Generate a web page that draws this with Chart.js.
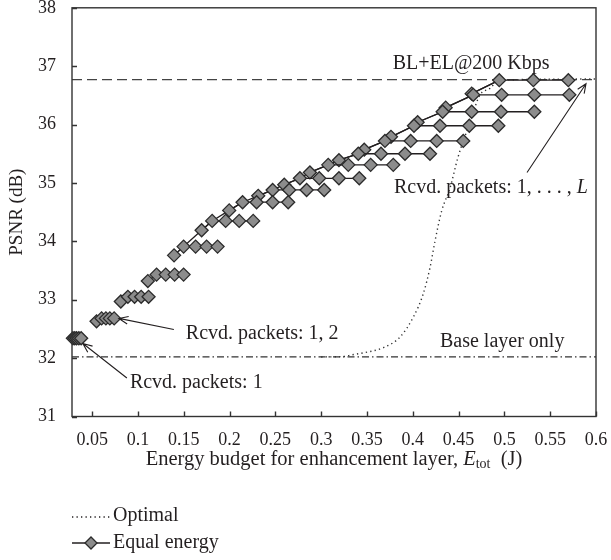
<!DOCTYPE html>
<html lang="en">
<head>
<meta charset="UTF-8">
<title>PSNR vs energy budget</title>
<script src="https://cdn.jsdelivr.net/npm/chart.js"></script>
<style>
  html, body { margin: 0; padding: 0; background: #fff; }
  #wrap { width: 611px; height: 560px; }
</style>
</head>
<body>
<div id="wrap"><canvas id="chart" width="611" height="560"></canvas></div>
<script>
// axis ticks
const xTicks = [0.05, 0.1, 0.15, 0.2, 0.25, 0.3, 0.35, 0.4, 0.45, 0.5, 0.55, 0.6];
const yTicks = [31, 32, 33, 34, 35, 36, 37, 38];

// equal energy: one row per number of received packets
const eqEnergy = [
  [0.029, 0.031, 0.033, 0.0355, 0.038],
  [0.0548, 0.0603, 0.0650, 0.0693, 0.0740],
  [0.0813, 0.0890, 0.0963, 0.1035, 0.1116],
  [0.1108, 0.1203, 0.1303, 0.1400, 0.1498],
  [0.1394, 0.1498, 0.1629, 0.1749, 0.1869],
  [0.1695, 0.1810, 0.1957, 0.2105, 0.2258],
  [0.1996, 0.2142, 0.2295, 0.2470, 0.2640],
  [0.2313, 0.2470, 0.2651, 0.2841, 0.3033],
  [0.2597, 0.2768, 0.2979, 0.3194, 0.3416],
  [0.2877, 0.3077, 0.3296, 0.3540, 0.3787],
  [0.3194, 0.3405, 0.3653, 0.3915, 0.4188],
  [0.3470, 0.3696, 0.3977, 0.4261, 0.4551],
  [0.3762, 0.4013, 0.4297, 0.4617, 0.4934],
  [0.4053, 0.4326, 0.4643, 0.4963, 0.5327],
  [0.4359, 0.4660, 0.4970, 0.5327, 0.5709],
  [0.4643, 0.4944, 0.5316, 0.5698]
];
const eqPsnr = [
  [32.34, 32.34, 32.34, 32.34, 32.34],
  [32.63, 32.68, 32.68, 32.68, 32.68],
  [32.97, 33.05, 33.05, 33.05, 33.05],
  [33.32, 33.43, 33.43, 33.43, 33.43],
  [33.76, 33.91, 33.91, 33.91, 33.91],
  [34.19, 34.35, 34.35, 34.35, 34.35],
  [34.53, 34.67, 34.67, 34.67, 34.67],
  [34.78, 34.88, 34.88, 34.88, 34.88],
  [34.97, 35.08, 35.08, 35.08, 35.08],
  [35.18, 35.31, 35.31, 35.31, 35.31],
  [35.39, 35.50, 35.50, 35.50, 35.50],
  [35.57, 35.72, 35.72, 35.72, 35.72],
  [35.79, 35.98, 35.98, 35.98, 35.98],
  [36.04, 36.22, 36.22, 36.22, 36.22],
  [36.29, 36.51, 36.51, 36.51, 36.51],
  [36.53, 36.76, 36.76, 36.76]
];
// rows from which the rising envelope joins the next row
const envelopeFrom = 4;

// optimal allocation
const optEnergy = [0.30, 0.326, 0.3314, 0.346, 0.368, 0.386, 0.4005, 0.4114, 0.4188, 0.4242, 0.4315,
  0.4406, 0.449, 0.4551, 0.4613, 0.4668, 0.4734, 0.4843, 0.4941, 0.6];
const optPsnr = [32.02, 32.03, 32.05, 32.09, 32.18, 32.36, 32.70, 33.10, 33.55, 34.00, 34.52,
  34.91, 35.42, 35.72, 35.98, 36.25, 36.51, 36.62, 36.76, 36.78];

const baseLevel = 32.02;   // base layer only
const fullLevel = 36.77;   // BL+EL@200 Kbps

const serif = '"Liberation Serif", "DejaVu Serif", serif';
const ink = '#231f20';

const notes = [
  { text: 'BL+EL@200 Kbps', x: 0.378, y: 37.04 },
  { text: 'Rcvd. packets: 1, . . . , ', italic: 'L', x: 0.3795, y: 34.92 },
  { text: 'Rcvd. packets: 1, 2', x: 0.1523, y: 32.42 },
  { text: 'Base layer only', x: 0.4297, y: 32.28 },
  { text: 'Rcvd. packets: 1', x: 0.0912, y: 31.58 }
];
const arrows = [
  { from: [0.5247, 35.18], to: [0.5891, 36.70] },
  { from: [0.1392, 32.49], to: [0.0792, 32.68] },
  { from: [0.0879, 31.66], to: [0.0399, 32.25] }
];

const pts = (xs, ys) => xs.map((v, i) => ({ x: v, y: ys[i] }));

const datasets = [];
eqEnergy.forEach((row, i) => {
  datasets.push({
    data: pts(row, eqPsnr[i]),
    showLine: true,
    borderColor: ink,
    borderWidth: 1.3,
    pointStyle: 'rectRot',
    pointRadius: 6.5,
    pointBackgroundColor: '#8c8c8c',
    pointBorderColor: '#2b2b2b',
    pointBorderWidth: 1.3,
    clip: false
  });
});

const envelope = [];
for (let i = envelopeFrom; i < eqEnergy.length; i++) {
  envelope.push({ x: eqEnergy[i][0], y: eqPsnr[i][0] });
  envelope.push({ x: eqEnergy[i][1], y: eqPsnr[i][1] });
}
datasets.push({ data: envelope, showLine: true, borderColor: ink, borderWidth: 1.3, pointRadius: 0 });

datasets.push({
  data: pts(optEnergy, optPsnr), showLine: true, borderColor: '#333', borderWidth: 1.4,
  borderDash: [1.3, 3.2], pointRadius: 0, cubicInterpolationMode: 'monotone'
});
datasets.push({
  data: [{ x: 0.028, y: fullLevel }, { x: 0.6, y: fullLevel }], showLine: true,
  borderColor: '#444', borderWidth: 1.3, borderDash: [10, 5], pointRadius: 0
});
datasets.push({
  data: [{ x: 0.028, y: baseLevel }, { x: 0.6, y: baseLevel }], showLine: true,
  borderColor: '#333', borderWidth: 1.2, borderDash: [7, 3, 1.5, 3], pointRadius: 0
});

function arrowHead(ctx, x1, y1, x2, y2) {
  const a = Math.atan2(y2 - y1, x2 - x1);
  const len = 10, spread = 0.4;
  ctx.moveTo(x2 - len * Math.cos(a - spread), y2 - len * Math.sin(a - spread));
  ctx.lineTo(x2, y2);
  ctx.lineTo(x2 - len * Math.cos(a + spread), y2 - len * Math.sin(a + spread));
}

const decorations = {
  id: 'decorations',
  afterDraw(chart) {
    const { ctx, chartArea: a, scales: { x, y } } = chart;
    ctx.save();
    // frame and inner ticks
    ctx.strokeStyle = '#333';
    ctx.lineWidth = 1.4;
    ctx.strokeRect(a.left, a.top, a.right - a.left, a.bottom - a.top);
    ctx.beginPath();
    xTicks.forEach(v => {
      const px = Math.round(x.getPixelForValue(v)) + 0.5;
      ctx.moveTo(px, a.bottom); ctx.lineTo(px, a.bottom - 5);
    });
    yTicks.forEach(v => {
      const py = Math.round(y.getPixelForValue(v)) + 0.5;
      ctx.moveTo(a.left, py); ctx.lineTo(a.left + 5, py);
    });
    ctx.stroke();

    // notes
    ctx.fillStyle = ink;
    ctx.textBaseline = 'middle';
    ctx.textAlign = 'left';
    notes.forEach(n => {
      const px = x.getPixelForValue(n.x), py = y.getPixelForValue(n.y);
      ctx.font = '20px ' + serif;
      ctx.fillText(n.text, px, py);
      if (n.italic) {
        const w = ctx.measureText(n.text).width;
        ctx.font = 'italic 20px ' + serif;
        ctx.fillText(n.italic, px + w, py);
      }
    });

    // arrows
    ctx.strokeStyle = ink;
    ctx.lineWidth = 1.1;
    arrows.forEach(r => {
      const x1 = x.getPixelForValue(r.from[0]), y1 = y.getPixelForValue(r.from[1]);
      const x2 = x.getPixelForValue(r.to[0]), y2 = y.getPixelForValue(r.to[1]);
      ctx.beginPath();
      ctx.moveTo(x1, y1); ctx.lineTo(x2, y2);
      arrowHead(ctx, x1, y1, x2, y2);
      ctx.stroke();
    });

    // x title with subscript
    const parts = [
      { t: 'Energy budget for enhancement layer, ', f: '20.5px ' + serif, dy: 0 },
      { t: 'E', f: 'italic 20.5px ' + serif, dy: 0 },
      { t: 'tot', f: '14px ' + serif, dy: 4 },
      { t: '  (J)', f: '20.5px ' + serif, dy: 0 }
    ];
    let total = 0;
    parts.forEach(p => { ctx.font = p.f; p.w = ctx.measureText(p.t).width; total += p.w; });
    let cx = (a.left + a.right) / 2 - total / 2;
    parts.forEach(p => { ctx.font = p.f; ctx.fillText(p.t, cx, 460 + p.dy); cx += p.w; });

    // y title
    ctx.save();
    ctx.translate(17, (a.top + a.bottom) / 2);
    ctx.rotate(-Math.PI / 2);
    ctx.textAlign = 'center';
    ctx.font = '19px ' + serif;
    ctx.fillText('PSNR (dB)', 0, 0);
    ctx.restore();

    // legend
    ctx.font = '20px ' + serif;
    ctx.fillText('Optimal', 113, 516);
    ctx.fillText('Equal energy', 113, 543);
    ctx.beginPath();
    ctx.setLineDash([1.3, 3.2]);
    ctx.lineWidth = 1.4;
    ctx.moveTo(72, 517); ctx.lineTo(110, 517);
    ctx.stroke();
    ctx.setLineDash([]);
    ctx.lineWidth = 1.3;
    ctx.beginPath();
    ctx.moveTo(72, 543); ctx.lineTo(110, 543);
    ctx.stroke();
    ctx.beginPath();
    ctx.moveTo(91 - 6, 543); ctx.lineTo(91, 537); ctx.lineTo(91 + 6, 543); ctx.lineTo(91, 549); ctx.closePath();
    ctx.fillStyle = '#8c8c8c';
    ctx.fill();
    ctx.strokeStyle = '#2b2b2b';
    ctx.stroke();
    ctx.restore();
  }
};

new Chart(document.getElementById('chart'), {
  type: 'scatter',
  data: { datasets },
  options: {
    responsive: false,
    animation: false,
    events: [],
    layout: { padding: { top: 6, right: 15, left: 0, bottom: 0 } },
    plugins: { legend: { display: false }, tooltip: { enabled: false } },
    scales: {
      x: {
        type: 'linear', min: 0.028, max: 0.6,
        grid: { display: false }, border: { display: false },
        afterBuildTicks: s => { s.ticks = xTicks.map(v => ({ value: v })); },
        afterFit: s => { s.height = 143.5; s.paddingLeft = 0; s.paddingRight = 0; },
        ticks: {
          color: ink, padding: 5, maxRotation: 0, autoSkip: false,
          font: { family: serif, size: 18 },
          callback: v => String(+v.toFixed(2))
        }
      },
      y: {
        type: 'linear', min: 31, max: 38,
        grid: { display: false }, border: { display: false },
        afterBuildTicks: s => { s.ticks = yTicks.map(v => ({ value: v })); },
        afterFit: s => { s.width = 72; s.paddingTop = 0; s.paddingBottom = 0; },
        ticks: {
          color: ink, padding: 8,
          font: { family: serif, size: 18 }
        }
      }
    }
  },
  plugins: [decorations]
});
</script>
</body>
</html>
